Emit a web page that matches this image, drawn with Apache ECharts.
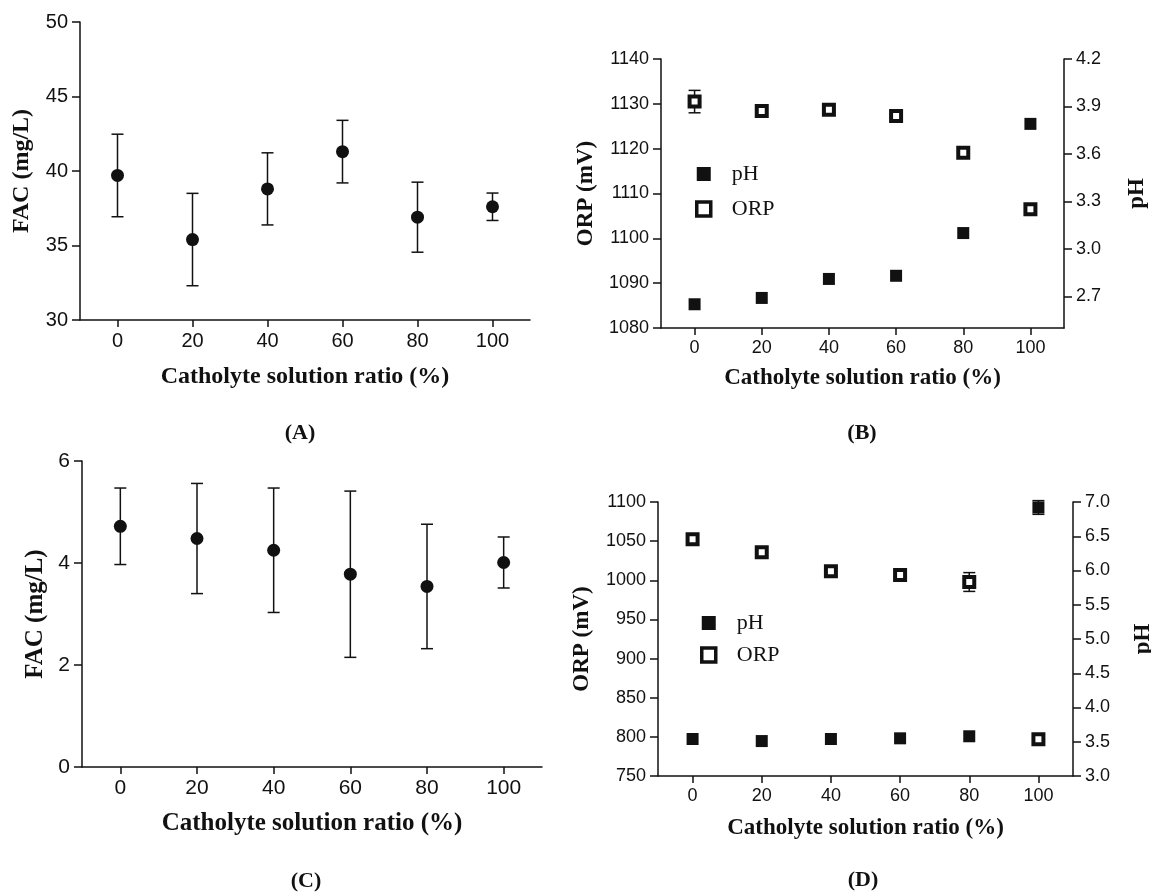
<!DOCTYPE html>
<html>
<head>
<meta charset="utf-8">
<script src="https://cdn.jsdelivr.net/npm/echarts@6/dist/echarts.min.js"></script>
<style>
  html, body { margin: 0; padding: 0; background: #fff; }
  #chart { width: 1151px; height: 894px; }
</style>
</head>
<body>
<div id="chart"></div>
<script>
// catholyte solution ratio (%)
const ratios = [0, 20, 40, 60, 80, 100]
const xTicks = [0, 20, 40, 60, 80, 100]

// (A) FAC, mg/L, mean and SD
const facA = [39.7, 35.4, 38.8, 41.3, 36.9, 37.6]
const facAErr = [2.77, 3.1, 2.42, 2.1, 2.35, 0.92]

// (B) ORP (mV) and pH
const orpB = [1130.5, 1128.4, 1128.7, 1127.3, 1119.1, 1106.5]
const orpBErr = [2.5, 0, 0, 0, 0, 0]
const phB = [2.65, 2.69, 2.81, 2.83, 3.10, 3.79]
const phBTicks = [2.7, 3.0, 3.3, 3.6, 3.9, 4.2]

// (C) FAC, mg/L
const facC = [4.72, 4.48, 4.25, 3.78, 3.54, 4.01]
const facCErr = [0.75, 1.08, 1.22, 1.63, 1.22, 0.5]

// (D) ORP (mV) and pH
const orpD = [1052.4, 1035.8, 1011.5, 1006.8, 997.8, 797]
const orpDErr = [0, 0, 4, 0, 12, 0]
const phD = [3.54, 3.51, 3.54, 3.55, 3.58, 6.92]
const phDErr = [0, 0, 0, 0, 0, 0.1]

const INK = '#111'
const SANS = 'Liberation Sans'
const SERIF = 'Liberation Serif'

const pairs = (vals) => ratios.map((r, i) => [r, vals[i]])
const errPairs = (vals, errs) => ratios
  .map((r, i) => [r, vals[i], errs[i]])
  .filter(d => d[2] > 0)

function renderErr (params, api) {
  const x = api.value(0)
  const v = api.value(1)
  const e = api.value(2)
  const hi = api.coord([x, v + e])
  const lo = api.coord([x, v - e])
  const w = 6
  const style = { stroke: INK, lineWidth: 1.5 }
  return {
    type: 'group',
    children: [
      { type: 'line', shape: { x1: hi[0], y1: hi[1], x2: lo[0], y2: lo[1] }, style },
      { type: 'line', shape: { x1: hi[0] - w, y1: hi[1], x2: hi[0] + w, y2: hi[1] }, style },
      { type: 'line', shape: { x1: lo[0] - w, y1: lo[1], x2: lo[0] + w, y2: lo[1] }, style }
    ]
  }
}

const plain = v => String(v)
const oneDecimal = v => Number(v).toFixed(1)

function xAxisOf (gridIndex, fontSize, titleSize, gap) {
  return {
    type: 'value',
    gridIndex,
    min: -10,
    max: 110,
    name: 'Catholyte solution ratio (%)',
    nameLocation: 'middle',
    nameGap: gap,
    nameTextStyle: { fontFamily: SERIF, fontWeight: 'bold', fontSize: titleSize, color: INK },
    axisLine: { show: true, onZero: false, lineStyle: { color: INK, width: 1.5 } },
    axisTick: { show: true, length: 7, customValues: xTicks, lineStyle: { color: INK, width: 1.5 } },
    axisLabel: { customValues: xTicks, margin: 11, formatter: plain, fontFamily: SANS, fontSize, color: INK },
    splitLine: { show: false }
  }
}

function yAxisOf (gridIndex, opt) {
  const axis = {
    type: 'value',
    gridIndex,
    position: opt.position || 'left',
    min: opt.min,
    max: opt.max,
    name: opt.name,
    nameLocation: 'middle',
    nameRotate: 90,
    nameGap: opt.gap,
    nameTextStyle: { fontFamily: SERIF, fontWeight: 'bold', fontSize: opt.titleSize, color: INK },
    axisLine: { show: true, onZero: false, lineStyle: { color: INK, width: 1.5 } },
    axisTick: { show: true, length: 8, lineStyle: { color: INK, width: 1.5 } },
    axisLabel: { margin: 12, formatter: opt.fmt || plain, fontFamily: SANS, fontSize: opt.fontSize, color: INK },
    splitLine: { show: false }
  }
  if (opt.interval) axis.interval = opt.interval
  if (opt.ticks) {
    axis.axisTick.customValues = opt.ticks
    axis.axisLabel.customValues = opt.ticks
  }
  return axis
}

const filled = { color: INK, opacity: 1 }
const hollow = { color: '#fff', borderColor: INK, borderWidth: 4, opacity: 1 }

function legendAt (left, top, gap) {
  return {
    left, top, orient: 'vertical', itemWidth: 14, itemHeight: 14, itemGap: gap,
    selectedMode: false,
    data: [
      { name: 'pH', itemStyle: { color: INK, borderWidth: 0 } },
      { name: 'ORP', itemStyle: { color: '#fff', borderColor: INK, borderWidth: 3.5 } }
    ],
    textStyle: { fontFamily: SERIF, fontSize: 22, color: INK, lineHeight: 22, padding: [0, 0, 0, 16] }
  }
}

function panelLabel (text, x, y) {
  return {
    type: 'text', x, y,
    style: { text, font: 'bold 22px "Liberation Serif"', fill: INK, textAlign: 'center', textVerticalAlign: 'middle' }
  }
}

const option = {
  animation: false,
  backgroundColor: '#fff',
  grid: [
    { left: 80, top: 22, width: 450, height: 298, outerBoundsMode: 'none', containLabel: false },
    { left: 661, top: 59, width: 403, height: 269, outerBoundsMode: 'none', containLabel: false },
    { left: 82, top: 461, width: 460, height: 306, outerBoundsMode: 'none', containLabel: false },
    { left: 658, top: 502, width: 415, height: 274, outerBoundsMode: 'none', containLabel: false }
  ],
  xAxis: [
    xAxisOf(0, 20, 24, 45),
    xAxisOf(1, 18, 23, 39),
    xAxisOf(2, 21, 25, 44),
    xAxisOf(3, 18, 23, 41)
  ],
  yAxis: [
    yAxisOf(0, { min: 30, max: 50, interval: 5, name: 'FAC (mg/L)', gap: 46, titleSize: 24, fontSize: 20 }),
    yAxisOf(1, { min: 1080, max: 1140, interval: 10, name: 'ORP (mV)', gap: 63, titleSize: 23, fontSize: 18 }),
    yAxisOf(1, { position: 'right', min: 2.5, max: 4.2, ticks: phBTicks, fmt: oneDecimal, name: 'pH', gap: 62, titleSize: 23, fontSize: 18 }),
    yAxisOf(2, { min: 0, max: 6, interval: 2, name: 'FAC (mg/L)', gap: 34, titleSize: 25, fontSize: 21 }),
    yAxisOf(3, { min: 750, max: 1100, interval: 50, name: 'ORP (mV)', gap: 64, titleSize: 23, fontSize: 18 }),
    yAxisOf(3, { position: 'right', min: 3, max: 7, interval: 0.5, fmt: oneDecimal, name: 'pH', gap: 59, titleSize: 23, fontSize: 18 })
  ],
  legend: [legendAt(690, 158, 13), legendAt(695, 607, 10)],
  graphic: [
    panelLabel('(A)', 300, 433),
    panelLabel('(B)', 862, 433),
    panelLabel('(C)', 306, 881),
    panelLabel('(D)', 863, 880)
  ],
  series: [
    // (A)
    { type: 'custom', name: 'errA', xAxisIndex: 0, yAxisIndex: 0, renderItem: renderErr, data: errPairs(facA, facAErr), z: 1 },
    { type: 'scatter', name: 'FAC A', xAxisIndex: 0, yAxisIndex: 0, symbol: 'circle', symbolSize: 13, itemStyle: filled, data: pairs(facA), z: 2 },
    // (B)
    { type: 'custom', name: 'errB', xAxisIndex: 1, yAxisIndex: 1, renderItem: renderErr, data: errPairs(orpB, orpBErr), z: 1 },
    { type: 'scatter', name: 'pH', xAxisIndex: 1, yAxisIndex: 2, symbol: 'rect', symbolSize: 12, itemStyle: filled, data: pairs(phB), z: 2 },
    { type: 'scatter', name: 'ORP', xAxisIndex: 1, yAxisIndex: 1, symbol: 'rect', symbolSize: 10, itemStyle: hollow, data: pairs(orpB), z: 2 },
    // (C)
    { type: 'custom', name: 'errC', xAxisIndex: 2, yAxisIndex: 3, renderItem: renderErr, data: errPairs(facC, facCErr), z: 1 },
    { type: 'scatter', name: 'FAC C', xAxisIndex: 2, yAxisIndex: 3, symbol: 'circle', symbolSize: 13, itemStyle: filled, data: pairs(facC), z: 2 },
    // (D)
    { type: 'custom', name: 'errD', xAxisIndex: 3, yAxisIndex: 4, renderItem: renderErr, data: errPairs(orpD, orpDErr), z: 1 },
    { type: 'custom', name: 'errDph', xAxisIndex: 3, yAxisIndex: 5, renderItem: renderErr, data: errPairs(phD, phDErr), z: 1 },
    { type: 'scatter', name: 'pH', xAxisIndex: 3, yAxisIndex: 5, symbol: 'rect', symbolSize: 12, itemStyle: filled, data: pairs(phD), z: 2 },
    { type: 'scatter', name: 'ORP', xAxisIndex: 3, yAxisIndex: 4, symbol: 'rect', symbolSize: 10, itemStyle: hollow, data: pairs(orpD), z: 2 }
  ]
}

const chart = echarts.init(document.getElementById('chart'))
chart.setOption(option)
</script>
</body>
</html>
